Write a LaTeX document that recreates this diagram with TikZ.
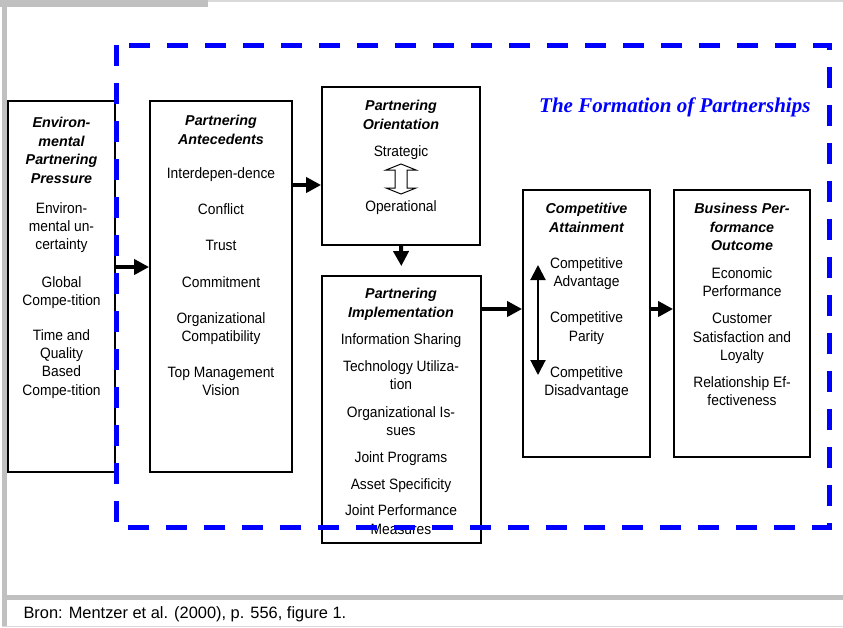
\documentclass[tikz,border=0pt]{standalone}
\usepackage{fontspec}
\setmainfont{Liberation Sans}
\newfontfamily\titlefont{Liberation Serif}
\newfontfamily\narrowfont[FakeStretch=0.92]{Liberation Sans}
\usepackage{tikz}
\usetikzlibrary{arrows.meta,positioning}
\definecolor{framegray}{RGB}{192,192,192}
\definecolor{palegray}{RGB}{217,217,217}
\definecolor{dashblue}{RGB}{0,0,255}

\begin{document}
\begin{tikzpicture}[x=1pt,y=-1pt,
  box/.style={draw,line width=1.8pt,fill=white,inner sep=0pt},
  head/.style={anchor=north,align=center,inner sep=0pt,font=\fontsize{14.3}{18.5}\selectfont\bfseries\itshape},
  body/.style={anchor=north,align=center,inner sep=0pt,font=\narrowfont\fontsize{15}{18.2}\selectfont},
  bigarrow/.style={line width=4pt,-{Triangle[length=15pt,width=15pt]}}]
\useasboundingbox (0,0) rectangle (843,627);

%%% page frame %%%
\fill[framegray] (2,0) rectangle (7,627);
\fill[framegray] (0,0) rectangle (208,7);
\fill[palegray] (208,0) rectangle (843,2);
\fill[framegray] (2,595) rectangle (843,600);
\fill[palegray] (2,625.5) rectangle (843,627);

%%% boxes %%%
  \node (EPP) at (61.5,286.5) [box,minimum width=107pt,minimum height=371pt] {};
  \node (PA) at (221,286.5) [box,minimum width=142pt,minimum height=371pt] {};
  \node (PO) at (401,166) [box,minimum width=158pt,minimum height=158pt] {};
  \node (PI) at (401.5,409.5) [box,minimum width=159pt,minimum height=267pt] {};
  \node (CA) at (586.5,323.5) [box,minimum width=127pt,minimum height=267pt] {};
  \node (BPO) at (742,323.5) [box,minimum width=136pt,minimum height=267pt] {};

%%% texts %%%
  \node (EPPh) at (61.5,117) [head] {Environ-\\mental\\Partnering\\Pressure};
  \node (EPPt) at (61.5,202.5) [body] {Environ-\\mental un-\\certainty\\[19pt]Global\\Compe-tition\\[17pt]Time and\\Quality\\Based\\Compe-tition};

  \node (PAh) at (221,115) [head] {Partnering\\Antecedents};
  \node (PAt) at (221,167.5) [body] {Interdepen-dence\\[18pt]Conflict\\[18pt]Trust\\[18pt]Commitment\\[18pt]Organizational\\Compatibility\\[18pt]Top Management\\Vision};

  \node (POh) at (401,100) [head] {Partnering\\Orientation};
  \node (Strat) at (401,145.5) [body] {Strategic};
  \node (Oper) at (401,200.5) [body] {Operational};
  \coordinate (POc) at (401,179);
  \draw[line width=1pt,fill=white,shift={(POc)}]
     (0,-15) -- (15,-9) -- (6,-9) -- (6,9) -- (15,9) -- (0,15)
     -- (-15,9) -- (-6,9) -- (-6,-9) -- (-15,-9) -- cycle;

  \node (PIh) at (401,288) [head] {Partnering\\Implementation};
  \node (PIt) at (401,333.5) [body] {Information Sharing\\[9pt]Technology Utiliza-\\tion\\[9pt]Organizational Is-\\sues\\[9pt]Joint Programs\\[9pt]Asset Specificity\\[8pt]Joint Performance\\Measures};

  \node (CAh) at (586.5,203) [head] {Competitive\\Attainment};
  \node (CAt) at (586.5,257.5) [body] {Competitive\\Advantage\\[18pt]Competitive\\Parity\\[18pt]Competitive\\Disadvantage};

  \node (BPOh) at (742,203) [head] {Business Per-\\formance\\Outcome};
  \node (BPOt) at (742,267.5) [body] {Economic\\Performance\\[9pt]Customer\\Satisfaction and\\Loyalty\\[9pt]Relationship Ef-\\fectiveness};

%%% arrows %%%
\coordinate (PAo) at ([yshift=101.5pt]PA.east);
\coordinate (PIo) at ([yshift=100.5pt]PI.east);
\coordinate (CAo) at ([yshift=14.5pt]CA.east);
\coordinate (CAup) at (538,265);
\coordinate (CAdn) at (538,375);

\draw[bigarrow] ([yshift=19.5pt]EPP.east) -- ([yshift=19.5pt]PA.west);
\draw[bigarrow] (PAo) -- (PAo -| PO.west);
\draw[bigarrow,shorten >=9pt] (PO.south) -- (PI.north);
\draw[bigarrow] (PIo) -- (PIo -| CA.west);
\draw[bigarrow] (CAo) -- (CAo -| BPO.west);
\draw[line width=2pt,{Triangle[length=15pt,width=15pt]}-{Triangle[length=15pt,width=15pt]}] (CAup) -- (CAdn);

%%% dashed frame and title %%%
\draw[dashblue,line width=5pt,dash pattern=on 21pt off 17pt] (116,45) rectangle (829,527);
\node (Title) at (814,112) [anchor=base east,text=dashblue,font=\titlefont\fontsize{21}{24}\selectfont\bfseries\itshape] {The Formation of Partnerships};

\node (Src) at (20,618) [anchor=base west,font=\fontsize{16.4}{18}\selectfont] {Bron: Mentzer et al. (2000), p. 556, figure 1.};
\end{tikzpicture}
\end{document}
